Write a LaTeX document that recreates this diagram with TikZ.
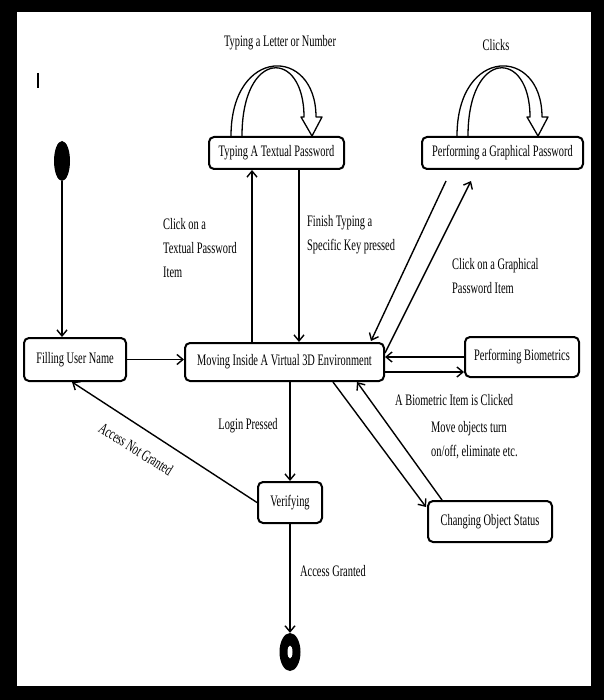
\documentclass[tikz,border=0pt]{standalone}
\usepackage{fontspec}
\setmainfont{Liberation Serif}[FakeStretch=0.65]
\usetikzlibrary{arrows.meta,calc,shapes.geometric}
\tikzset{
  state/.style={draw, rounded corners=5pt, line width=2pt, inner sep=0pt, fill=white},
  arr/.style={line width=1.4pt, -{Straight Barb[length=6pt,width=10pt]}},
  loopline/.style={line width=1.3pt, line join=round},
  lbl/.style={align=left, inner sep=0pt, anchor=west},
  dot/.style={ellipse, fill=black, inner sep=0pt},
}
\begin{document}
\begin{tikzpicture}[x=1pt, y=-1pt, font=\fontsize{16}{24}\selectfont]
    % Frame
    \fill[black] (0,0) rectangle (604,700);
    \fill[white] (17,12) rectangle (591,686);
    \draw[line width=1.3pt] (38,73) -- (38,88);

    % States
    \node[dot, minimum width=16pt, minimum height=40pt] (start) at (62,161) {};
    \node[state, minimum width=102pt, minimum height=43pt] (user) at (75,359.5) {Filling User Name};
    \node[state, minimum width=199pt, minimum height=38pt] (moving) at (284.5,362) {Moving Inside A Virtual 3D Environment};
    \node[state, minimum width=135pt, minimum height=32pt] (textual) at (276.5,153) {Typing A Textual Password};
    \node[state, minimum width=161pt, minimum height=32pt] (graphical) at (502.5,153) {Performing a Graphical Password};
    \node[state, minimum width=114pt, minimum height=40pt] (biometrics) at (522,357) {Performing Biometrics};
    \node[state, minimum width=124pt, minimum height=41pt] (changing) at (490,521.5) {Changing Object Status};
    \node[state, minimum width=64pt, minimum height=41pt] (verify) at (290,502.5) {Verifying};
    \node[dot, minimum width=21pt, minimum height=38pt] (stop) at (290,652) {};
    \fill[white] (stop.center) ellipse [x radius=2.5pt, y radius=6.5pt];

    % Self loops
    \foreach \s in {textual,graphical} {
        \begin{scope}[shift={(\s.north)}]
            \draw[loopline] (-45.5,0) .. controls (-45.5,-90) and (39.5,-90) .. (39.5,-19)
                -- (45.5,-19) -- (35.5,0) -- (24.5,-19) -- (27.5,-19)
                .. controls (27.5,-87.5) and (-34.5,-87.5) .. (-34.5,0);
        \end{scope}
    }
    \node at (280,43) {Typing a Letter or Number};
    \node at (496,45) {Clicks};

    % Transitions
    \draw[arr] (start.south) -- (start.south |- user.north);
    \draw[arr] (user.east) -- (user.east -| moving.west);

    \coordinate (tup) at ($(textual.south)+(-24.5,0)$);
    \coordinate (tdown) at ($(textual.south)+(22.5,0)$);
    \draw[arr] (tup |- moving.north) -- (tup);
    \draw[arr] (tdown) -- (tdown |- moving.north);
    \node[lbl] at (163,248) {Click on a\\Textual Password\\Item};
    \node[lbl] at (307,235) {Finish Typing a\\Specific Key pressed};

    \draw[arr] ($(graphical.south west)+(25,11)$) -- ($(moving.north east)+(-14,-1)$);
    \draw[arr] ($(moving.east)+(0,-9)$) -- ($(graphical.south west)+(50,11)$);
    \node[lbl] at (452,276.5) {Click on a Graphical\\Password Item};

    \draw[arr] (biometrics.west) -- (biometrics.west -| moving.east);
    \coordinate (blow) at ($(biometrics.west)+(0,15)$);
    \draw[arr] (blow -| moving.east) -- (blow);
    \node[lbl] at (395,400) {A Biometric Item is Clicked};

    \draw[arr] ($(moving.south)+(48.5,0)$) -- ($(changing.north west)+(-1,7)$);
    \draw[arr] ($(changing.north west)+(15,0)$) -- ($(moving.south)+(72.5,0)$);
    \node[lbl] at (431,440.5) {Move objects turn\\on/off, eliminate etc.};

    \draw[arr] (moving.south -| verify.north) -- (verify.north);
    \node at (248,426) {Login Pressed};

    \draw[arr] (verify.west) -- ($(user.south)+(-3,0)$);
    \node[rotate=-32] at (136,449) {Access Not Granted};

    \draw[arr] (verify.south) -- (stop.north);
    \node[lbl] at (300,571) {Access Granted};
\end{tikzpicture}
\end{document}
